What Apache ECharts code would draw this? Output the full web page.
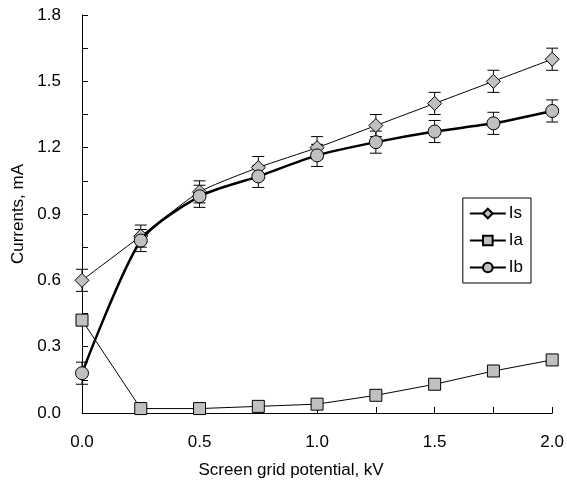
<!DOCTYPE html>
<html>
<head>
<meta charset="utf-8">
<script src="https://cdn.jsdelivr.net/npm/echarts@6/dist/echarts.min.js"></script>
<style>
  html, body { margin: 0; padding: 0; background: #fff; }
  #main { width: 567px; height: 488px; }
</style>
</head>
<body>
<div id="main"></div>
<script>
// screen grid potential, kV
var potential = [0, 0.25, 0.5, 0.75, 1.0, 1.25, 1.5, 1.75, 2.0];
// currents, mA
var isValues = [0.60, 0.80, 1.00, 1.11, 1.20, 1.30, 1.40, 1.50, 1.60];
var iaValues = [0.42, 0.02, 0.02, 0.03, 0.04, 0.08, 0.13, 0.19, 0.24];
var ibValues = [0.18, 0.78, 0.98, 1.07, 1.165, 1.225, 1.273, 1.31, 1.366];
// error bar half-widths
var isErr = [0.05, 0.05, 0.05, 0.05, 0.05, 0.05, 0.05, 0.05, 0.05];
var ibErr = [0.05, 0.05, 0.05, 0.05, 0.05, 0.05, 0.05, 0.05, 0.05];

var chart = echarts.init(document.getElementById('main'));

function pairs(ys) {
  return potential.map(function (x, i) { return [x, ys[i]]; });
}

function errData(ys, errs) {
  return potential.map(function (x, i) { return [x, ys[i] - errs[i], ys[i] + errs[i]]; });
}

function renderErr(params, api) {
  var lo = api.coord([api.value(0), api.value(1)]);
  var hi = api.coord([api.value(0), api.value(2)]);
  var w = 6;
  var st = { stroke: '#000', lineWidth: 1 };
  return {
    type: 'group',
    children: [
      { type: 'line', shape: { x1: lo[0], y1: lo[1], x2: hi[0], y2: hi[1] }, style: st },
      { type: 'line', shape: { x1: lo[0] - w, y1: lo[1], x2: lo[0] + w, y2: lo[1] }, style: st },
      { type: 'line', shape: { x1: hi[0] - w, y1: hi[1], x2: hi[0] + w, y2: hi[1] }, style: st }
    ]
  };
}

var font = 'Liberation Sans, Arial, sans-serif';

chart.setOption({
  animation: false,
  backgroundColor: '#fff',
  grid: { left: 82, right: 14, top: 15, bottom: 75 },
  legend: {
    right: 36, top: 198,
    orient: 'vertical',
    borderColor: '#000', borderWidth: 1,
    padding: [7, 8, 7, 6],
    itemGap: 10,
    itemWidth: 36, itemHeight: 12,
    textStyle: { fontFamily: font, fontSize: 17, color: '#000', padding: [0, 0, 0, -2] },
    data: ['Is', 'Ia', 'Ib']
  },
  xAxis: {
    type: 'value', min: 0, max: 2, interval: 0.5,
    name: 'Screen grid potential, kV', nameLocation: 'middle', nameGap: 49,
    nameTextStyle: { fontFamily: font, fontSize: 17, color: '#000', padding: [0, 52, 0, 0] },
    axisLine: { show: true, lineStyle: { color: '#000', width: 1 } },
    axisTick: { show: true, inside: true, length: 6, lineStyle: { color: '#000' } },
    minorTick: { show: true, splitNumber: 2, length: 6, lineStyle: { color: '#000' } },
    splitLine: { show: false },
    axisLabel: { fontFamily: font, fontSize: 17, color: '#000', margin: 21,
      formatter: function (v) { return v.toFixed(1); } }
  },
  yAxis: {
    type: 'value', min: 0, max: 1.8, interval: 0.3,
    name: 'Currents, mA', nameLocation: 'middle', nameGap: 55,
    nameTextStyle: { fontFamily: font, fontSize: 17, color: '#000' },
    axisLine: { show: true, lineStyle: { color: '#000', width: 1 } },
    axisTick: { show: true, inside: true, length: 6, lineStyle: { color: '#000' } },
    minorTick: { show: true, splitNumber: 2, length: 6, lineStyle: { color: '#000' } },
    splitLine: { show: false },
    axisLabel: { fontFamily: font, fontSize: 17, color: '#000', margin: 21,
      formatter: function (v) { return v.toFixed(1); } }
  },
  series: [
    {
      type: 'custom', renderItem: renderErr, data: errData(isValues, isErr),
      encode: { x: 0, y: [1, 2] }, z: 1, silent: true
    },
    {
      type: 'custom', renderItem: renderErr, data: errData(ibValues, ibErr),
      encode: { x: 0, y: [1, 2] }, z: 1, silent: true
    },
    {
      name: 'Is', type: 'line', data: pairs(isValues), smooth: 0.2,
      symbol: 'diamond', symbolSize: [14, 14], showAllSymbol: true,
      lineStyle: { color: '#000', width: 1 },
      itemStyle: { color: '#c0c0c0', borderColor: '#000', borderWidth: 1 },
      z: 3
    },
    {
      name: 'Ia', type: 'line', data: pairs(iaValues),
      symbol: 'rect', symbolSize: 12, showAllSymbol: true,
      lineStyle: { color: '#000', width: 1 },
      itemStyle: { color: '#c0c0c0', borderColor: '#000', borderWidth: 1 },
      z: 3
    },
    {
      name: 'Ib', type: 'line', data: pairs(ibValues), smooth: 0.25,
      symbol: 'circle', symbolSize: 13, showAllSymbol: true,
      lineStyle: { color: '#000', width: 2.5 },
      itemStyle: { color: '#c0c0c0', borderColor: '#000', borderWidth: 1 },
      z: 4
    }
  ]
});
</script>
</body>
</html>
